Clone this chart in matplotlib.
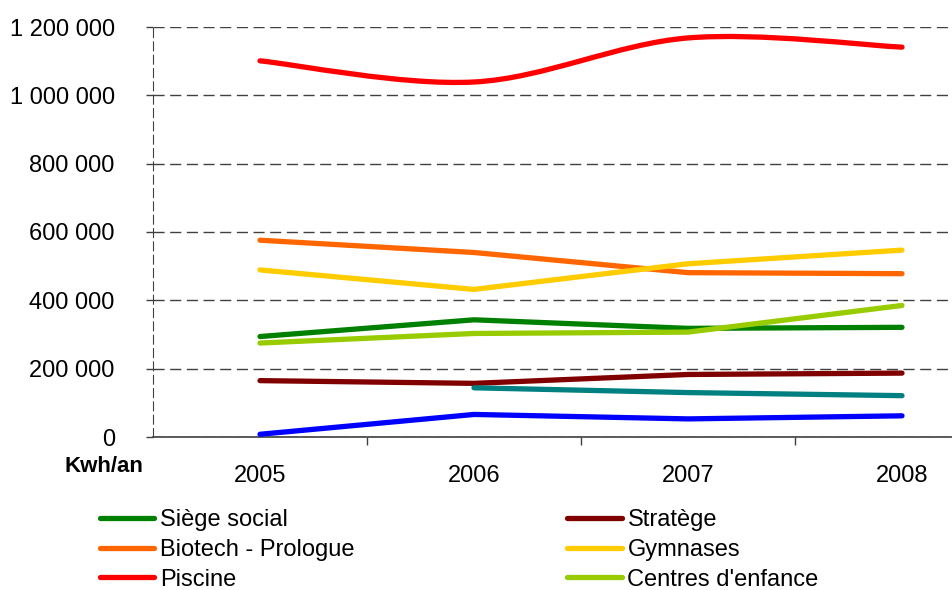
import matplotlib
matplotlib.use('Agg')
import matplotlib.pyplot as plt
from matplotlib.path import Path
from matplotlib.patches import PathPatch
from matplotlib.lines import Line2D
from matplotlib.ticker import FuncFormatter
import numpy as np

plt.rcParams['font.family'] = ['Liberation Sans', 'DejaVu Sans']

years = ['2005', '2006', '2007', '2008']

siege_social = [294000, 343000, 318000, 321000]
stratege = [165000, 157000, 183000, 187000]
biotech = [576000, 540000, 481000, 478000]
gymnases = [489000, 432000, 507000, 547000]
piscine = [1101000, 1039000, 1168000, 1141000]
centres_enfance = [275000, 303000, 307000, 385000]
# two series whose legend entries are cut off in the reference
serie_teal = [None, 144000, 130000, 121000]
serie_bleue = [8000, 66000, 53000, 62000]

y_ticks = [0, 200000, 400000, 600000, 800000, 1000000, 1200000]

LW = 3.8


def smooth_path(xs, ys):
    '''Bezier path through the points (spreadsheet-style smoothed line).'''
    pts = np.column_stack([xs, ys]).astype(float)
    n = len(pts)
    verts = [pts[0]]
    codes = [Path.MOVETO]
    for i in range(n - 1):
        p0 = pts[max(i - 1, 0)]
        p1 = pts[i]
        p2 = pts[i + 1]
        p3 = pts[min(i + 2, n - 1)]
        c1 = p1 + (p2 - p0) / 6.0
        c2 = p2 - (p3 - p1) / 6.0
        verts += [c1, c2, p2]
        codes += [Path.CURVE4] * 3
    return Path(verts, codes)


fig = plt.figure(figsize=(9.52, 5.9), dpi=100)
ax = fig.add_axes([153 / 952, (590 - 437) / 590, 856 / 952, 410 / 590])

x = np.arange(len(years))

series = [
    ('Siège social', siege_social, '#008000'),
    ('Stratège', stratege, '#800000'),
    ('Biotech - Prologue', biotech, '#FF6600'),
    ('Gymnases', gymnases, '#FFCC00'),
    ('Piscine', piscine, '#FF0000'),
    ("Centres d'enfance", centres_enfance, '#99CC00'),
]

handles = {}
for name, vals, col in series:
    if name == 'Piscine':
        patch = PathPatch(smooth_path(x, vals), facecolor='none', edgecolor=col,
                          lw=LW, capstyle='round', joinstyle='round', zorder=3)
        ax.add_patch(patch)
        handles[name] = Line2D([], [], color=col, lw=LW, solid_capstyle='round')
    else:
        ln, = ax.plot(x, vals, color=col, lw=LW, solid_capstyle='round',
                      solid_joinstyle='round', zorder=3)
        handles[name] = ln

xt = [i for i, v in enumerate(serie_teal) if v is not None]
ax.plot(xt, [serie_teal[i] for i in xt], color='#008080', lw=LW,
        solid_capstyle='round', zorder=3)
ax.plot(x, serie_bleue, color='#0000FF', lw=LW, solid_capstyle='round',
        solid_joinstyle='round', zorder=3)

ax.set_xlim(-0.5, 3.5)
ax.set_ylim(0, 1200000)

ax.set_yticks(y_ticks)
ax.yaxis.set_major_formatter(FuncFormatter(lambda v, p: '{:,.0f}'.format(v).replace(',', ' ')))
ax.tick_params(axis='y', direction='out', length=5, width=1, color='#404040',
               labelsize=17, pad=22.5)

ax.set_xticks(x)
ax.set_xticklabels(years)
ax.set_xticks([0.5, 1.5, 2.5], minor=True)
ax.tick_params(axis='x', which='major', length=0, labelsize=17, pad=20)
ax.tick_params(axis='x', which='minor', direction='out', length=6, width=1, color='#404040')

ax.grid(axis='y', color='#404040', linestyle=(0, (8, 4)), lw=1, zorder=1)
for s in ['top', 'right']:
    ax.spines[s].set_visible(False)
ax.spines['left'].set_linestyle((0, (8, 4)))
ax.spines['left'].set_color('#404040')
ax.spines['bottom'].set_color('#404040')
ax.spines['bottom'].set_linewidth(1.2)

fig.text(104 / 952, 1 - 466 / 590, 'Kwh/an', ha='center', va='center',
         fontsize=16, fontweight='bold')

order = ['Siège social', 'Biotech - Prologue', 'Piscine',
         'Stratège', 'Gymnases', "Centres d'enfance"]
fig.legend([handles[k] for k in order], order, loc='upper left',
           bbox_to_anchor=(100 / 952, 1 - 509 / 590), ncol=2, frameon=False,
           fontsize=17, handlelength=2.3, handletextpad=0.25, columnspacing=9.0,
           labelspacing=0.33, borderpad=0, borderaxespad=0)

fig.savefig('out.png', dpi=100)
